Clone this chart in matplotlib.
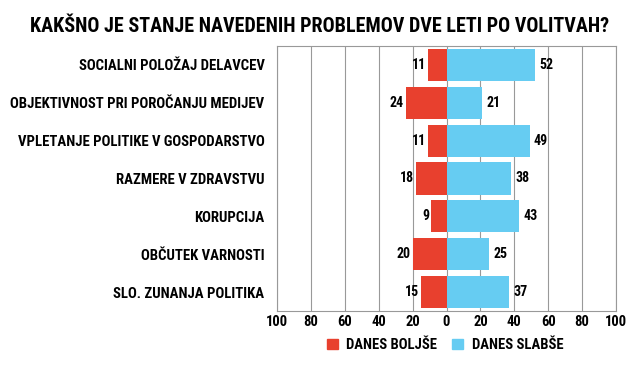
import matplotlib
matplotlib.use('Agg')
import matplotlib.pyplot as plt
import numpy as np
from matplotlib.patches import Patch

categories = ['SOCIALNI POLOŽAJ DELAVCEV', 'OBJEKTIVNOST PRI POROČANJU MEDIJEV',
              'VPLETANJE POLITIKE V GOSPODARSTVO', 'RAZMERE V ZDRAVSTVU',
              'KORUPCIJA', 'OBČUTEK VARNOSTI', 'SLO. ZUNANJA POLITIKA']
boljse = [11, 24, 11, 18, 9, 20, 15]
slabse = [52, 21, 49, 38, 43, 25, 37]
ticks = [-100, -80, -60, -40, -20, 0, 20, 40, 60, 80, 100]

red = '#E8402E'
blue = '#66CCF2'
font = dict(family=['Roboto Condensed', 'Barlow Condensed', 'DejaVu Sans'], weight='bold')

fig = plt.figure(figsize=(6.4, 3.66), dpi=100)
ax = fig.add_axes([277/640, 1-311/366, (616-277)/640, (311-46)/366])

y = np.arange(len(categories))
ax.barh(y, [-b for b in boljse], height=0.85, color=red, zorder=3)
ax.barh(y, slabse, height=0.85, color=blue, zorder=3)

for i in range(len(categories)):
    ax.text(-boljse[i] - 1, y[i], str(boljse[i]), ha='right', va='center', fontsize=10, **font)
    ax.text(slabse[i] + 2.5, y[i], str(slabse[i]), ha='left', va='center', fontsize=10, **font)

ax.set_xlim(-100, 100)
ax.set_ylim(len(categories) - 0.5, -0.5)
ax.set_xticks(ticks)
ax.set_xticklabels([str(abs(t)) for t in ticks], fontsize=10.5, **font)
ax.set_yticks(y)
ax.set_yticklabels(categories, fontsize=10.6, **font)
ax.tick_params(axis='y', length=0, pad=9)
ax.tick_params(axis='x', length=0, pad=3)
ax.grid(axis='x', color='#999999', linewidth=0.8, zorder=0)
for s in ax.spines.values():
    s.set_color('#999999')
    s.set_linewidth(0.8)

fig.text(0.5, 1-26/366, 'KAKŠNO JE STANJE NAVEDENIH PROBLEMOV DVE LETI PO VOLITVAH?',
         ha='center', va='center', fontsize=14.5, **font)

handles = [Patch(color=red, label='DANES BOLJŠE'), Patch(color=blue, label='DANES SLABŠE')]
fig.legend(handles=handles, loc='center', bbox_to_anchor=(445/640, 1-345/366), ncol=2,
           frameon=False, handlelength=0.75, handleheight=0.75, columnspacing=1.0,
           handletextpad=0.6, prop=dict(size=10.5, **font))

fig.savefig('out.png', dpi=100, facecolor='white')
